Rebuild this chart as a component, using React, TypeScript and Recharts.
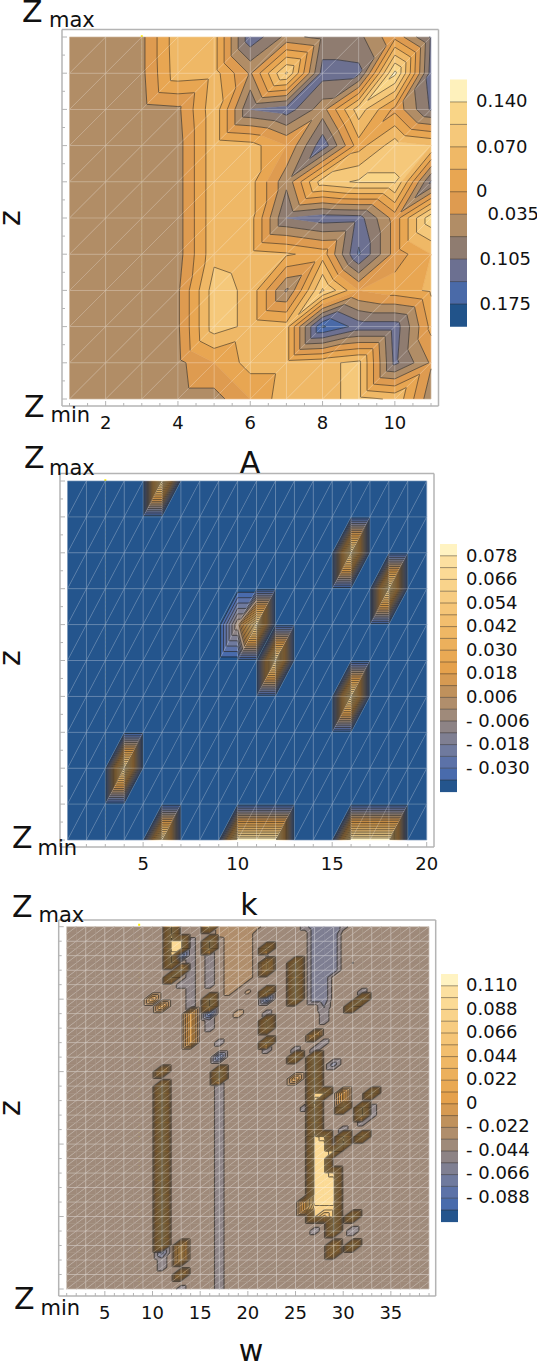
import React from 'react';
import { ScatterChart, Scatter, XAxis, YAxis, ReferenceLine } from 'recharts';

/** 패널 1: A (1..11) x z (위에서 아래로 0..10) */
const A_ROWS: number[][] = [
  [-0.05, -0.05, -0.044, 0.06, 0.05, -0.13, -0.06, -0.08, -0.08, -0.01, -0.11],
  [-0.05, -0.05, -0.044, 0.057, 0.05, -0.04, 0.11, -0.12, -0.115, 0.15, -0.12],
  [-0.05, -0.05, -0.05, -0.043, 0.06, -0.105, -0.125, -0.05, 0.09, -0.01, -0.11],
  [-0.05, -0.05, -0.05, -0.05, 0.06, 0.05, 0, -0.13, 0.02, 0.09, 0.07],
  [-0.05, -0.05, -0.05, -0.05, 0.06, 0.05, -0.06, 0.09, 0.11, 0.11, -0.11],
  [-0.05, -0.05, -0.05, -0.05, 0.06, 0.05, -0.105, -0.125, -0.12, -0.02, 0.13],
  [-0.05, -0.05, -0.05, -0.05, 0.06, 0.05, 0.04, 0.02, -0.145, -0.02, 0.035],
  [-0.05, -0.05, -0.05, -0.04, 0.088, 0.06, -0.075, 0.11, 0, 0.02, 0.04],
  [-0.05, -0.05, -0.05, -0.04, 0.088, 0.06, 0.05, -0.18, -0.125, -0.125, 0.01],
  [-0.05, -0.05, -0.05, -0.045, 0, 0.05, 0.05, 0.06, 0.08, -0.115, -0.03],
  [-0.05, -0.05, -0.05, -0.05, -0.05, 0, 0.059, 0.06, 0.08, 0.065, -0.06],
];
const A_LEVELS = [0.14, 0.105, 0.07, 0.035, 0, -0.035, -0.07, -0.105, -0.14, -0.175];
const A_COLORS = ['#FEF1BC', '#F9D587', '#F5C87A', '#EFB866', '#E8A652', '#DE9B50', '#B18D66', '#8F7C70', '#6C7091', '#4A6AA8', '#21538A'];

/** 패널 2: k (1..20) x z (0..10), 배경값 + 봉우리 */
const K_BASE = -0.04;
const K_PEAKS: number[][] = [
  [6, 0, 0.08], [16, 2, 0.08], [18, 3, 0.08], [10, 4, 0], [11, 4, 0.08], [12, 5, 0.08], [16, 6, 0.08], [4, 8, 0.08],
  [6, 10, 0.08], [10, 10, 0.085], [11, 10, 0.085], [12, 10, 0.085], [16, 10, 0.085], [17, 10, 0.085], [18, 10, 0.085],
];
const K_LEVELS = [0.078, 0.072, 0.066, 0.06, 0.054, 0.048, 0.042, 0.036, 0.03, 0.024, 0.018, 0.012, 0.006, 0, -0.006, -0.012, -0.018, -0.024, -0.03, -0.036];

/** 패널 3: w (1..39) x z (0..50), 배경값 + [열, 시작행, 끝행, 값] */
const W_BASE = -0.038;
const W_SPANS: number[][] = [
  [18, 0, 9, -0.028], [19, 0, 8, -0.028], [20, 0, 7, -0.028], [17, 0, 1, -0.03], [21, 0, 0, -0.03], [20, 9, 9, -0.031], [19, 12, 12, -0.027],
  [12, 0, 5, 0.08], [12, 2, 3, 0.095], [13, 2, 3, 0.095], [13, 4, 4, -0.09], [12, 7, 7, 0.08], [13, 6, 6, 0.08],
  [14, 2, 11, -0.05], [13, 8, 8, -0.05], [10, 10, 10, 0.005], [11, 11, 11, 0.01], [14, 12, 16, 0.02],
  [16, 0, 0, 0.08], [16, 2, 3, 0.08], [16, 4, 8, -0.05], [16, 10, 11, 0.08], [16, 12, 12, -0.09], [16, 13, 14, -0.05],
  [17, 16, 16, -0.05], [17, 18, 18, -0.085], [17, 20, 21, 0.08], [17, 22, 50, -0.05],
  [11, 20, 20, 0.05], [11, 22, 44, 0.08], [11, 45, 45, -0.07], [11, 46, 47, -0.05],
  [13, 44, 46, 0.04], [13, 48, 48, 0.05], [13, 50, 50, -0.05],
  [22, 3, 3, 0.07], [22, 4, 4, -0.045], [22, 5, 6, 0.05], [22, 9, 9, 0.08], [22, 10, 10, -0.085], [22, 12, 12, -0.05], [22, 13, 14, 0.06], [22, 16, 16, 0.08], [22, 17, 17, -0.05],
  [25, 5, 10, 0.08], [25, 17, 17, -0.05], [25, 18, 18, 0.08], [25, 21, 21, 0.005],
  [27, 0, 10, -0.065], [28, 0, 10, -0.065], [29, 0, 6, -0.065], [30, 0, 0, -0.05], [26, 0, 0, -0.05], [28, 11, 11, -0.056], [28, 12, 13, -0.05],
  [27, 15, 15, 0.04], [27, 17, 17, -0.05], [28, 16, 16, -0.05], [27, 18, 40, 0.08], [29, 19, 19, -0.062], [28, 23, 23, 0.08], [27, 24, 24, 0.095],
  [26, 25, 25, -0.05], [30, 23, 24, 0.015], [30, 25, 25, 0.08], [33, 23, 23, 0.08], [32, 25, 26, 0.08], [33, 25, 26, -0.05], [32, 27, 27, -0.05],
  [30, 28, 28, -0.05], [32, 29, 29, 0.08], [31, 11, 11, 0.08], [32, 10, 10, 0.08], [32, 9, 9, -0.05], [31, 5, 5, -0.0445],
  [28, 29, 29, 0.08], [27, 29, 38, 0.095], [28, 30, 38, 0.095], [29, 35, 38, 0.095], [29, 34, 34, 0.08], [29, 39, 42, 0.08], [29, 31, 31, 0.08],
  [30, 29, 29, 0.08], [30, 30, 30, 0.095], [26, 38, 39, 0.02], [28, 39, 39, 0.08], [28, 40, 40, 0.05], [31, 40, 40, 0.08], [27, 42, 42, -0.05],
  [31, 42, 42, -0.055], [31, 44, 44, 0.08], [29, 44, 45, 0.05],
];
const W_LEVELS = [0.11, 0.099, 0.088, 0.077, 0.066, 0.055, 0.044, 0.033, 0.022, 0.011, 0, -0.011, -0.022, -0.033, -0.044, -0.055, -0.066, -0.077, -0.088, -0.099];

const FINE_COLORS = ['#FFF3C2', '#FCE0A0', '#FBDA95', '#F9D38B', '#F7CC81', '#F5C577', '#F2BE6E', '#EFB765', '#ECB05C', '#E9A954', '#E5A14C', '#D69A52', '#BF915C', '#B08E6C', '#9F8A7A', '#8D8385', '#7F7F92', '#6F7A9E', '#5C72A8', '#496BAC', '#24558D'];

const A_LEGEND_LABELS = ['0.140', '0.070', '0', '0.035', '0.105', '0.175'];
const K_LEGEND_LABELS = ['0.078', '0.066', '0.054', '0.042', '0.030', '0.018', '0.006', '- 0.006', '- 0.018', '- 0.030'];
const W_LEGEND_LABELS = ['0.110', '0.088', '0.066', '0.044', '0.022', '0', '- 0.022', '- 0.044', '- 0.066', '- 0.088'];

const FONT = '"DejaVu Sans", sans-serif';
const FRAME_COLOR = '#b4b4b4';

function gridFromPeaks(cols: number, rows: number, base: number, peaks: number[][]) {
  const g = Array.from({ length: rows }, () => new Array(cols).fill(base));
  peaks.forEach(([c, r, v]) => { g[r][c - 1] = v; });
  return g;
}
function gridFromSpans(cols: number, rows: number, base: number, spans: number[][]) {
  const g = Array.from({ length: rows }, () => new Array(cols).fill(base));
  spans.forEach(([c, r0, r1, v]) => { for (let r = r0; r <= r1; r++) g[r][c - 1] = v; });
  return g;
}

type P = [number, number, number];

/** v >= t (keepAbove) 또는 v <= t 쪽으로 다각형을 자른다 */
function clip(poly: P[], t: number, keepAbove: boolean): P[] {
  const out: P[] = [];
  const inside = (p: P) => (keepAbove ? p[2] >= t : p[2] <= t);
  poly.forEach((a, i) => {
    const b = poly[(i + 1) % poly.length];
    if (inside(a)) out.push(a);
    if (inside(a) !== inside(b)) {
      const f = (t - a[2]) / (b[2] - a[2]);
      out.push([a[0] + (b[0] - a[0]) * f, a[1] + (b[1] - a[1]) * f, t]);
    }
  });
  return out;
}

function cellTriangles(g: number[][], col: number, row: number, w: number, h: number): P[][] {
  const tl: P = [0, 0, g[row][col]];
  const tr: P = [w, 0, g[row][col + 1]];
  const bl: P = [0, h, g[row + 1][col]];
  const br: P = [w, h, g[row + 1][col + 1]];
  return [[tl, tr, bl], [tr, br, bl]];
}

const toPath = (poly: P[]) => 'M' + poly.map((p) => `${p[0].toFixed(2)},${p[1].toFixed(2)}`).join('L') + 'Z';

interface PanelProps {
  grid: number[][];
  levels: number[];
  colors: string[];
  frame: { l: number; r: number; t: number; b: number };
  plot: { l: number; r: number; t: number; b: number };
  xMajor: number[];
  xTickStep: number;
  xFirst: number;
  yTickStep: number;
  yMajorEvery: number;
  meshX: number;
  meshY: number;
  meshOpacity: number;
  markerX: number;
  markerTop: number;
  markerBottom: number;
  lineWidth: number;
  lineOpacity: number;
}

function ContourPanel(props: PanelProps) {
  const { grid, levels, colors, frame, plot, xMajor, xTickStep, xFirst, yTickStep, yMajorEvery, meshX, meshY, meshOpacity, markerX, markerTop, markerBottom, lineWidth, lineOpacity } = props;
  const nRows = grid.length;
  const nCols = grid[0].length;
  const cw = (plot.r - plot.l) / (nCols - 1);
  const ch = (plot.b - plot.t) / (nRows - 1);
  const xMin = xFirst - (plot.l - frame.l) / cw;
  const xMax = xFirst + nCols - 1 + (frame.r - plot.r) / cw;
  const yMin = -(plot.t - frame.t) / ch;
  const yMax = nRows - 1 + (frame.b - plot.b) / ch;

  const cells: { x: number; y: number; col: number; row: number }[] = [];
  for (let row = 0; row < nRows - 1; row++) {
    for (let col = 0; col < nCols - 1; col++) cells.push({ x: xFirst + col, y: row, col, row });
  }

  const xTicks: number[] = [];
  for (let t = xFirst; t <= xFirst + nCols - 1 + 1e-6; t += xTickStep) xTicks.push(t);
  const yTicks: number[] = [];
  for (let t = 0; t <= nRows - 1 + 1e-6; t += yTickStep) yTicks.push(t);

  // 레벨 구간별 색 채우기
  const FillShape = (p: any) => {
    const { col, row } = p.payload;
    const tris = cellTriangles(grid, col, row, cw, ch);
    const parts: React.ReactNode[] = [];
    tris.forEach((tri, ti) => {
      for (let b = 0; b < colors.length; b++) {
        const hi = b === 0 ? Infinity : levels[b - 1];
        const lo = b === colors.length - 1 ? -Infinity : levels[b];
        let poly = tri;
        if (lo !== -Infinity) poly = clip(poly, lo, true);
        if (poly.length && hi !== Infinity) poly = clip(poly, hi, false);
        if (poly.length >= 3) {
          parts.push(<path key={`${ti}-${b}`} d={toPath(poly)} fill={colors[b]} stroke={colors[b]} strokeWidth={0.5} />);
        }
      }
    });
    return <g transform={`translate(${p.cx},${p.cy})`}>{parts}</g>;
  };

  // 등고선
  const LineShape = (p: any) => {
    const { col, row } = p.payload;
    let d = '';
    cellTriangles(grid, col, row, cw, ch).forEach((tri) => {
      levels.forEach((lv) => {
        const pts: P[] = [];
        tri.forEach((a, i) => {
          const b = tri[(i + 1) % 3];
          if ((a[2] - lv) * (b[2] - lv) < 0) {
            const f = (lv - a[2]) / (b[2] - a[2]);
            pts.push([a[0] + (b[0] - a[0]) * f, a[1] + (b[1] - a[1]) * f, lv]);
          }
        });
        if (pts.length === 2) d += `M${pts[0][0].toFixed(2)},${pts[0][1].toFixed(2)}L${pts[1][0].toFixed(2)},${pts[1][1].toFixed(2)}`;
      });
    });
    if (!d) return <g />;
    return <path transform={`translate(${p.cx},${p.cy})`} d={d} fill="none" stroke="#1e1a14" strokeOpacity={lineOpacity} strokeWidth={lineWidth} />;
  };

  // 메시
  const MeshShape = (p: any) => {
    const { col, row } = p.payload;
    let d = '';
    if (col % meshX === 0) d += `M0,0L0,${ch}`;
    if (row % meshY === 0) d += `M0,0L${cw},0`;
    if (col === nCols - 2 && (col + 1) % meshX === 0) d += `M${cw},0L${cw},${ch}`;
    if (row === nRows - 2 && (row + 1) % meshY === 0) d += `M0,${ch}L${cw},${ch}`;
    return (
      <g transform={`translate(${p.cx},${p.cy})`} fill="none" stroke="#ffffff">
        <path d={`M0,${ch}L${cw},0`} strokeOpacity={meshOpacity + 0.08} strokeWidth={0.6} />
        {d && <path d={d} strokeOpacity={meshOpacity} strokeWidth={1} />}
      </g>
    );
  };

  const xTick = (isTop: boolean) => (p: any) => {
    const v = p.payload.value;
    const major = xMajor.includes(v);
    const len = major ? 5 : 3;
    const y0 = isTop ? frame.t : frame.b;
    return (
      <g>
        <line x1={p.x} x2={p.x} y1={y0} y2={isTop ? y0 + len : y0 - len} stroke={FRAME_COLOR} />
        {!isTop && major && (
          <text x={p.x} y={frame.b + 23} textAnchor="middle" fontSize={18} fontFamily={FONT} fill="#111">{v}</text>
        )}
      </g>
    );
  };
  const yTick = (isLeft: boolean) => (p: any) => {
    const major = Math.abs(p.payload.value / yMajorEvery - Math.round(p.payload.value / yMajorEvery)) < 1e-6;
    const len = major ? 5 : 3;
    const x0 = isLeft ? frame.l : frame.r;
    return <line x1={x0} x2={isLeft ? x0 + len : x0 - len} y1={p.y} y2={p.y} stroke={FRAME_COLOR} />;
  };
  const axisLine = { stroke: FRAME_COLOR, strokeWidth: 1.5 };

  return (
    <div style={{ position: 'absolute', left: 0, top: 0 }}>
      <ScatterChart width={537} height={1363} margin={{ top: 0, right: 0, bottom: 0, left: 0 }}>
        <XAxis xAxisId={0} type="number" dataKey="x" domain={[xMin, xMax]} ticks={xTicks} interval={0} height={1363 - frame.b} tick={xTick(false)} tickLine={false} axisLine={axisLine} />
        <XAxis xAxisId="top" orientation="top" type="number" domain={[xMin, xMax]} ticks={xTicks} interval={0} height={frame.t} tick={xTick(true)} tickLine={false} axisLine={axisLine} />
        <YAxis yAxisId={0} type="number" dataKey="y" reversed domain={[yMin, yMax]} ticks={yTicks} interval={0} width={frame.l} tick={yTick(true)} tickLine={false} axisLine={axisLine} />
        <YAxis yAxisId="right" orientation="right" type="number" reversed domain={[yMin, yMax]} ticks={yTicks} interval={0} width={537 - frame.r} tick={yTick(false)} tickLine={false} axisLine={axisLine} />
        <Scatter data={cells} shape={FillShape} isAnimationActive={false} />
        <Scatter data={cells} shape={LineShape} isAnimationActive={false} />
        <Scatter data={cells} shape={MeshShape} isAnimationActive={false} />
        <ReferenceLine
          segment={[{ x: markerX, y: markerTop }, { x: markerX, y: markerBottom }]}
          stroke="#FFF000"
          strokeWidth={2}
          strokeDasharray="2 2"
        />
      </ScatterChart>
    </div>
  );
}

function ColorBar({ x, top, step, colors, labels, labelX, labelY }: { x: number; top: number; step: number; colors: string[]; labels: string[]; labelX: number[]; labelY: number[] }) {
  return (
    <g>
      {colors.map((c, i) => (
        <rect key={i} x={x} y={top + i * step} width={17} height={step + 0.3} fill={c} />
      ))}
      {colors.slice(1).map((_, i) => (
        <line key={i} x1={x} x2={x + 17} y1={top + (i + 1) * step} y2={top + (i + 1) * step} stroke="#2a2622" strokeOpacity={0.45} />
      ))}
      {labels.map((t, i) => (
        <text key={t} x={labelX[i]} y={labelY[i]} fontSize={18} fontFamily={FONT} fill="#111">{t}</text>
      ))}
    </g>
  );
}

function ZLabel({ x, y, sub, subX, subY }: { x: number; y: number; sub: string; subX: number; subY: number }) {
  return (
    <g fontFamily={FONT} fill="#111">
      <text x={x} y={y} fontSize={30}>Z</text>
      <text x={subX} y={subY} fontSize={21}>{sub}</text>
    </g>
  );
}

function AxisWord({ x, y, children, rotate }: { x: number; y: number; children: string; rotate?: boolean }) {
  return (
    <text x={x} y={y} fontSize={30} textAnchor="middle" fontFamily={FONT} fill="#111" transform={rotate ? `rotate(-90 ${x} ${y})` : undefined}>
      {children}
    </text>
  );
}

const range = (n: number, start: number, step: number) => Array.from({ length: n }, (_, i) => start + i * step);

export default function App() {
  const kGrid = gridFromPeaks(20, 11, K_BASE, K_PEAKS);
  const wGrid = gridFromSpans(39, 51, W_BASE, W_SPANS);

  return (
    <div style={{ position: 'absolute', left: 0, top: 0, width: 537, height: 1363, background: '#fff', overflow: 'hidden' }}>
      <ContourPanel
        grid={A_ROWS} levels={A_LEVELS} colors={A_COLORS}
        frame={{ l: 62, r: 438.5, t: 29.5, b: 406 }} plot={{ l: 69.5, r: 431, t: 37, b: 399 }}
        xMajor={[2, 4, 6, 8, 10]} xTickStep={0.5} xFirst={1} yTickStep={0.5} yMajorEvery={1}
        meshX={1} meshY={1} meshOpacity={0.24} markerX={3} markerTop={-0.05} markerBottom={9.95} lineWidth={1} lineOpacity={0.52}
      />
      <ContourPanel
        grid={kGrid} levels={K_LEVELS} colors={FINE_COLORS}
        frame={{ l: 60, r: 434, t: 473.5, b: 847 }} plot={{ l: 67.5, r: 426.7, t: 481, b: 840 }}
        xMajor={[5, 10, 15, 20]} xTickStep={1} xFirst={1} yTickStep={0.5} yMajorEvery={1}
        meshX={1} meshY={1} meshOpacity={0.24} markerX={3} markerTop={-0.05} markerBottom={9.95} lineWidth={1} lineOpacity={0.6}
      />
      <ContourPanel
        grid={wGrid} levels={W_LEVELS} colors={FINE_COLORS}
        frame={{ l: 58.7, r: 435.7, t: 920, b: 1296 }} plot={{ l: 66.7, r: 429, t: 926.7, b: 1289 }}
        xMajor={[5, 10, 15, 20, 25, 30, 35]} xTickStep={1} xFirst={1} yTickStep={2} yMajorEvery={10}
        meshX={2} meshY={2} meshOpacity={0.32} markerX={8.6} markerTop={-0.4} markerBottom={49.5} lineWidth={1.1} lineOpacity={0.6}
      />
      <svg width={537} height={1363} style={{ position: 'absolute', left: 0, top: 0, pointerEvents: 'none' }}>
        <ZLabel x={22} y={21.5} sub="max" subX={49} subY={27} />
        <ZLabel x={24} y={416.7} sub="min" subX={50.5} subY={421.7} />
        <ZLabel x={24} y={468} sub="max" subX={49} subY={475} />
        <ZLabel x={12} y={848} sub="min" subX={37.5} subY={855} />
        <ZLabel x={12} y={916.7} sub="max" subX={38.5} subY={921.7} />
        <ZLabel x={14} y={1309} sub="min" subX={40.5} subY={1315} />
        <AxisWord x={250} y={473}>A</AxisWord>
        <AxisWord x={249} y={915}>k</AxisWord>
        <AxisWord x={251} y={1361}>w</AxisWord>
        <AxisWord x={20} y={218} rotate>z</AxisWord>
        <AxisWord x={20} y={658} rotate>z</AxisWord>
        <AxisWord x={20} y={1108} rotate>z</AxisWord>
        <ColorBar
          x={450} top={79.5} step={22.45} colors={A_COLORS} labels={A_LEGEND_LABELS}
          labelX={[476, 476, 476, 487.5, 479.5, 479.5]} labelY={[107.3, 152.7, 196.7, 220, 265, 310]}
        />
        <ColorBar
          x={440} top={544} step={11.8} colors={FINE_COLORS} labels={K_LEGEND_LABELS}
          labelX={range(10, 466, 0)} labelY={range(10, 561.7, 23.55)}
        />
        <ColorBar
          x={441} top={974} step={11.8} colors={FINE_COLORS} labels={W_LEGEND_LABELS}
          labelX={range(10, 466, 0)} labelY={range(10, 991, 23.55)}
        />
      </svg>
    </div>
  );
}
